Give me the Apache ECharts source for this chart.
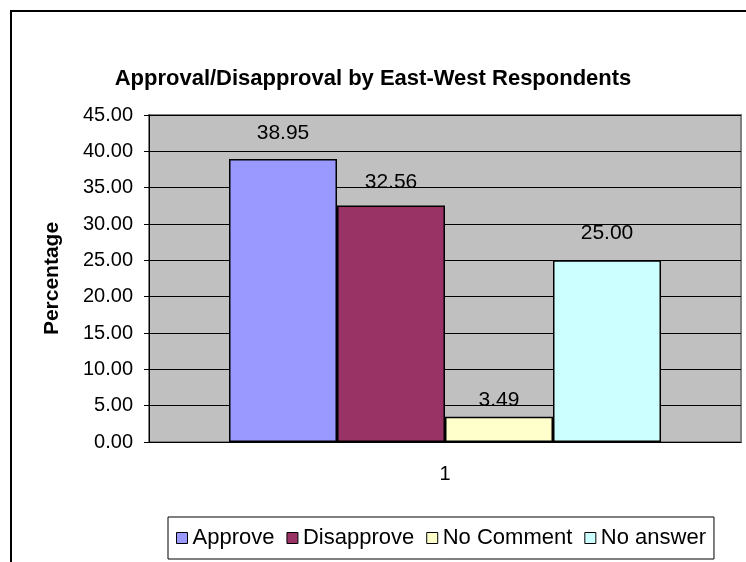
<!DOCTYPE html>
<html>
<head>
<meta charset="utf-8">
<script src="https://cdn.jsdelivr.net/npm/echarts@6/dist/echarts.min.js"></script>
<style>
  html, body { margin: 0; padding: 0; background: #fff; }
  #chart { width: 746px; height: 562px; }
</style>
</head>
<body>
<div id="chart"></div>
<script>
// data
var categories = ['1']
var seriesNames = ['Approve', 'Disapprove', 'No Comment', 'No answer']
var seriesValues = [38.95, 32.56, 3.49, 25.00]
var seriesColors = ['#9999FF', '#993366', '#FFFFCC', '#CCFFFF']
var labelGaps = [15, 13, 6, 17] // excel puts its labels a bit oddly

var font = 'Liberation Sans, Arial, sans-serif'

var chart = echarts.init(document.getElementById('chart'))

var series = seriesNames.map(function (name, i) {
  return {
    name: name,
    type: 'bar',
    barWidth: 108,
    barGap: '0%',
    itemStyle: {
      color: seriesColors[i],
      borderColor: '#000',
      borderWidth: 1.5,
    },
    label: {
      show: true,
      position: 'top',
      distance: labelGaps[i],
      fontFamily: font,
      fontSize: 21,
      color: '#000',
      formatter: function (p) {
        return p.value.toFixed(2)
      },
    },
    data: [seriesValues[i]],
  }
})

chart.setOption({
  animation: false,
  textStyle: { fontFamily: font },
  title: {
    text: 'Approval/Disapproval by East-West Respondents',
    left: 'center',
    top: 63,
    textStyle: {
      fontFamily: font,
      fontWeight: 'bold',
      fontSize: 22,
      color: '#000',
    },
  },
  legend: {
    left: 168,
    top: 517,
    orient: 'horizontal',
    icon: 'rect',
    itemWidth: 11,
    itemHeight: 11,
    itemGap: 12,
    padding: [10, 8, 10, 8],
    borderColor: '#000',
    borderWidth: 1,
    itemStyle: { borderColor: '#000', borderWidth: 1 },
    textStyle: { fontFamily: font, fontSize: 22, color: '#000' },
    data: seriesNames,
  },
  graphic: [
    {
      type: 'rect',
      shape: { x: 11, y: 11, width: 760, height: 580 },
      style: { fill: null, stroke: '#000', lineWidth: 2 },
      z: 100,
    },
  ],
  grid: {
    left: 149,
    right: 5,
    top: 115,
    bottom: 120,
    show: true,
    backgroundColor: '#C0C0C0',
    borderColor: '#808080',
    borderWidth: 2,
  },
  xAxis: {
    type: 'category',
    data: categories,
    axisLine: { lineStyle: { color: '#000', width: 1 } },
    axisTick: { show: false },
    axisLabel: { fontFamily: font, fontSize: 20, color: '#000', margin: 22 },
  },
  yAxis: {
    type: 'value',
    min: 0,
    max: 45,
    interval: 5,
    name: 'Percentage',
    nameLocation: 'middle',
    nameRotate: 90,
    nameGap: 86,
    nameTextStyle: { fontFamily: font, fontWeight: 'bold', fontSize: 21, color: '#000' },
    axisLine: { show: true, lineStyle: { color: '#000', width: 1 } },
    axisTick: { show: true, length: 5, lineStyle: { color: '#000' } },
    axisLabel: {
      fontFamily: font,
      fontSize: 20,
      color: '#000',
      margin: 16,
      formatter: function (v) {
        return v.toFixed(2)
      },
    },
    splitLine: { show: true, lineStyle: { color: '#000', width: 1 } },
  },
  series: series,
})
</script>
</body>
</html>
